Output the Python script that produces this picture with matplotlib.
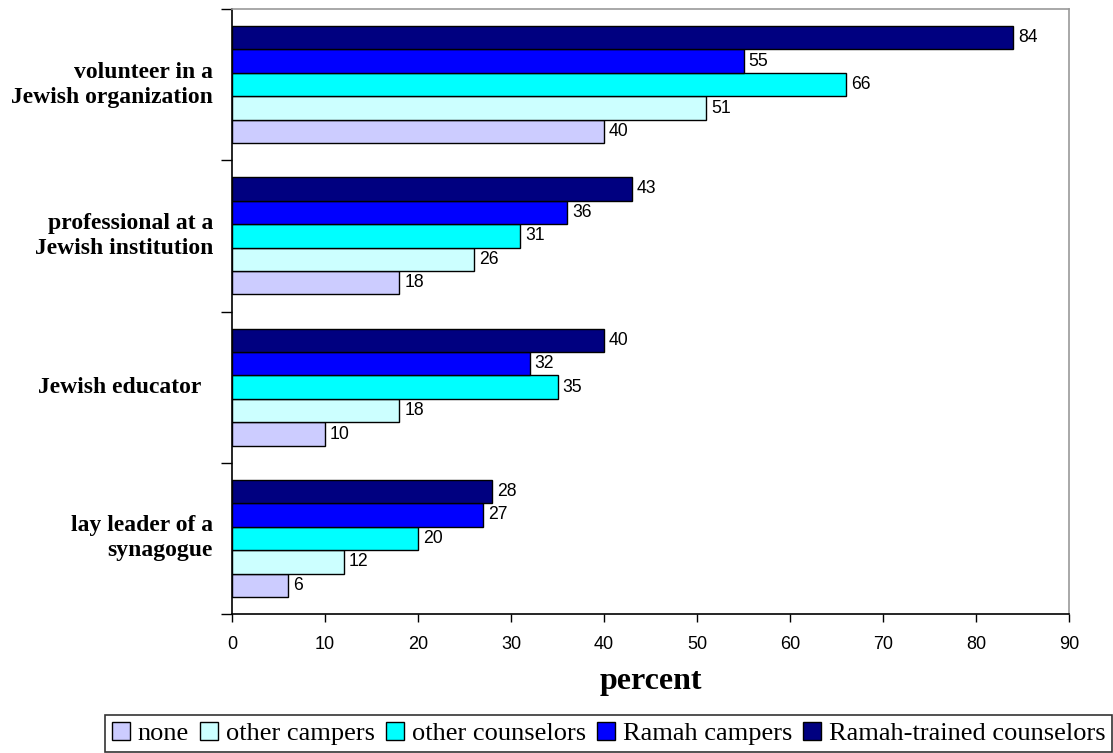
import matplotlib
matplotlib.use("Agg")
import matplotlib.pyplot as plt
from matplotlib.patches import Patch
import numpy as np

categories = ["volunteer in a\nJewish organization",
              "professional at a\nJewish institution",
              "Jewish educator  ",
              "lay leader of a\nsynagogue"]

series_names = ["none", "other campers", "other counselors",
                "Ramah campers", "Ramah-trained counselors"]
series_colors = ["#CCCCFF", "#CCFFFF", "#00FFFF", "#0000FF", "#000080"]

none_vals = [40, 18, 10, 6]
other_campers = [51, 26, 18, 12]
other_counselors = [66, 31, 35, 20]
ramah_campers = [55, 36, 32, 27]
ramah_trained = [84, 43, 40, 28]

series_values = [none_vals, other_campers, other_counselors,
                 ramah_campers, ramah_trained]

x_ticks = [0, 10, 20, 30, 40, 50, 60, 70, 80, 90]

SERIF = "Liberation Serif"
SANS = "Liberation Sans"

fig = plt.figure(figsize=(11.13, 7.53), dpi=100)
ax = fig.add_axes([232 / 1113, 1 - 614 / 753, (1069 - 232) / 1113, (614 - 9) / 753])

bar_h = 0.155
centers = np.arange(len(categories))

for i, (vals, color) in enumerate(zip(series_values, series_colors)):
    # "none" sits lowest in each group, Ramah-trained counselors on top
    offset = (2 - i) * bar_h
    ypos = centers + offset
    ax.barh(ypos, vals, height=bar_h, color=color, edgecolor="black",
            linewidth=1.0, zorder=2)
    for y, v in zip(ypos, vals):
        ax.text(v + 0.55, y, str(v), va="center", ha="left",
                fontsize=12.7, family=SANS, color="black")

ax.set_xlim(0, 90)
ax.set_ylim(3.5, -0.5)
ax.set_xticks(x_ticks)
ax.set_xticklabels([str(t) for t in x_ticks], family=SANS, fontsize=13)
ax.tick_params(axis="x", length=6, width=1, pad=10, color="black")
ax.set_yticks(np.arange(-0.5, len(categories), 1.0))
ax.set_yticklabels([])
ax.tick_params(axis="y", length=8, width=1, color="black")

for c, label in zip(centers, categories):
    ax.text(-19 / 837 * 90, c, label, ha="right", va="center",
            fontsize=17, fontweight="bold", family=SERIF,
            linespacing=1.25, transform=ax.transData, clip_on=False)

ax.set_xlabel("percent", family=SERIF, fontsize=23, fontweight="bold",
              labelpad=10)

for side in ("top", "right"):
    ax.spines[side].set_color("#999999")
    ax.spines[side].set_linewidth(1.2)
for side in ("left", "bottom"):
    ax.spines[side].set_color("black")
    ax.spines[side].set_linewidth(1.2)

handles = [Patch(facecolor=c, edgecolor="black", linewidth=1.0)
           for c in series_colors]
leg = fig.legend(handles, series_names, loc="upper left",
                 bbox_to_anchor=(105 / 1113, 1 - 715 / 753),
                 ncol=5, frameon=True, fancybox=False, shadow=False,
                 prop={"family": SERIF, "size": 19},
                 handlelength=0.68, handleheight=0.68, handletextpad=0.3,
                 columnspacing=0.42, borderpad=0.25, borderaxespad=0)
leg.get_frame().set_edgecolor("black")
leg.get_frame().set_linewidth(1.2)

fig.savefig("out.png", dpi=100)
